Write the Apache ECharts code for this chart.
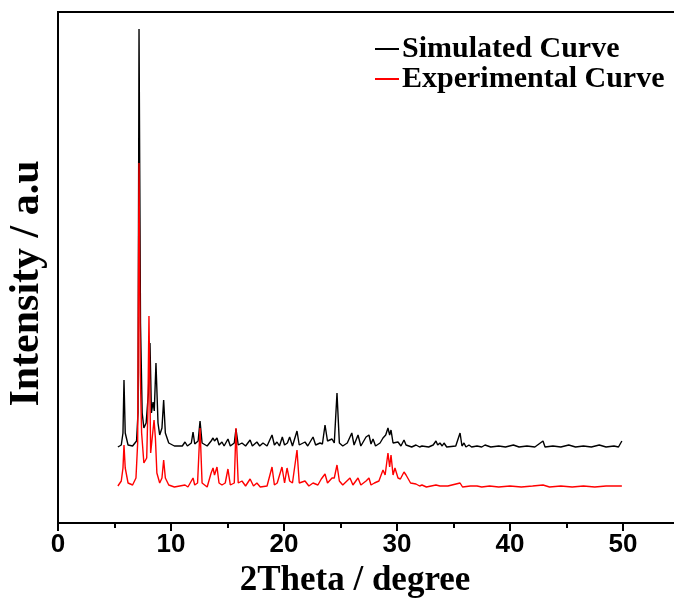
<!DOCTYPE html>
<html>
<head>
<meta charset="utf-8">
<script src="https://cdn.jsdelivr.net/npm/echarts@6/dist/echarts.min.js"></script>
<style>
  html, body { margin: 0; padding: 0; background: #fff; }
  #xrd { width: 674px; height: 603px; }
</style>
</head>
<body>
<div id="xrd"></div>
<script>
// simulated pattern (2theta, intensity in arbitrary units)
var simTheta = [5.3, 5.6, 5.75, 5.84, 5.95, 6.2, 6.6, 6.95, 7.08, 7.17, 7.3, 7.45, 7.6, 7.8, 8.0, 8.14, 8.27, 8.41, 8.52, 8.67, 8.85, 9.0, 9.2, 9.35, 9.5, 9.8, 10.3, 11.0,
  11.24, 11.45, 11.8, 11.95, 12.1, 12.4, 12.57, 12.75, 13.2, 13.55, 13.72, 13.85, 14.07, 14.25, 14.51, 14.7, 15.04, 15.25, 15.6, 15.75, 15.95,
  16.28, 16.6, 17.0, 17.2, 17.6, 17.85, 18.14, 18.5, 18.94, 19.15, 19.38, 19.6, 19.85, 20.05, 20.3, 20.5, 20.75, 21.15, 21.35, 21.86, 22.1,
  22.57, 22.8, 23.19, 23.4, 23.63, 23.85, 24.25, 24.45, 24.69, 24.9, 25.2, 25.6, 25.84, 26.0, 26.2, 26.55, 26.8, 27.26, 27.52, 27.7, 27.88,
  28.1, 28.5, 28.76, 29.0, 29.2, 29.35, 29.47, 29.65, 29.82, 30.09, 30.35, 30.62, 30.8, 30.97, 31.3, 31.68, 32.0, 32.21, 32.8, 33.2, 33.45,
  33.6, 33.8, 34.0, 34.16, 34.4, 35.2, 35.58, 35.75, 35.93, 36.1, 36.37, 36.6, 37.08, 37.5, 37.79, 38.3, 39.0, 39.6, 40.3, 40.8, 41.5, 42.2,
  42.92, 43.1, 43.8, 44.5, 45.2, 45.8, 46.5, 47.2, 47.9, 48.5, 49.2, 49.6, 49.9];
var simIntensity = [76, 78, 90, 143, 90, 78, 77, 82, 110, 494, 200, 110, 95, 100, 130, 180, 110, 121, 112, 160, 100, 88, 95, 123, 90, 80, 77, 77,
  81, 77, 80, 91, 79, 82, 102, 80, 77, 82, 85, 82, 85, 78, 81, 77, 84, 77, 80, 94, 78,
  80, 77, 83, 77, 81, 77, 80, 77, 88, 78, 81, 77, 86, 78, 80, 86, 77, 92, 78, 81, 77,
  86, 78, 80, 79, 98, 82, 84, 80, 130, 80, 77, 80, 86, 90, 78, 88, 77, 86, 88, 79, 84,
  77, 80, 85, 88, 95, 88, 93, 80, 82, 81, 77, 83, 78, 79, 76, 78, 76, 77, 76, 78, 82,
  78, 80, 77, 80, 76, 77, 90, 77, 80, 76, 78, 76, 77, 76, 78, 76, 77, 76, 78, 76, 77, 76,
  82, 76, 77, 76, 78, 76, 77, 76, 78, 76, 77, 76, 82];

// experimental pattern
var expTheta = [5.3, 5.6, 5.75, 5.84, 5.95, 6.2, 6.6, 6.9, 7.05, 7.17, 7.28, 7.4, 7.6, 7.85, 7.95, 8.05, 8.2, 8.35, 8.5, 8.62, 8.75, 9.0, 9.2, 9.35, 9.5, 9.8, 10.3,
  11.24, 11.5, 11.95, 12.1, 12.35, 12.57, 12.75, 13.2, 13.55, 13.72, 13.85, 14.07, 14.25, 14.51, 14.8, 15.04, 15.25, 15.6, 15.75, 15.95,
  16.28, 16.6, 17.0, 17.3, 17.6, 17.9, 18.5, 18.94, 19.15, 19.4, 19.82, 20.05, 20.27, 20.5, 20.75, 21.15, 21.35, 21.86, 22.2, 22.57, 23.0,
  23.3, 23.63, 23.85, 24.25, 24.45, 24.69, 24.9, 25.2, 25.84, 26.1, 26.55, 26.8, 27.26, 27.52, 27.7, 28.0, 28.4, 28.76, 28.95, 29.2, 29.35,
  29.47, 29.65, 29.82, 30.09, 30.3, 30.62, 30.8, 30.97, 31.2, 31.68, 32.0, 32.21, 32.6, 33.45, 33.8, 34.5, 35.58, 35.8, 36.5, 37.08, 37.5,
  38.2, 39.0, 40.0, 41.0, 42.0, 42.92, 43.5, 44.5, 45.5, 46.5, 47.5, 48.5, 49.9];
var expIntensity = [37, 42, 55, 78, 55, 40, 38, 45, 80, 360, 150, 90, 60, 65, 110, 207, 70, 70, 103, 85, 50, 40, 45, 63, 45, 38, 36,
  38, 36, 45, 38, 40, 95, 40, 36, 50, 55, 48, 56, 40, 38, 40, 54, 38, 40, 95, 40,
  42, 37, 44, 37, 40, 36, 37, 56, 38, 40, 56, 40, 55, 42, 40, 73, 40, 42, 37, 40, 38,
  44, 49, 40, 45, 45, 58, 42, 38, 45, 38, 45, 38, 42, 45, 38, 40, 42, 53, 48, 70, 56,
  68, 48, 55, 45, 44, 51, 48, 50, 40, 39, 37, 38, 36, 38, 37, 37, 40, 36, 37, 37, 36,
  37, 36, 37, 36, 37, 38, 36, 37, 36, 37, 36, 37, 37];

var xTicks = [0, 10, 20, 30, 40, 50, 60];

var zip = function(xs, ys) {
    var out = []
    for (var i = 0; i < xs.length; i++) {
        out.push([xs[i], ys[i]])
    }
    return out
}

var chart = echarts.init(document.getElementById('xrd'));

var option = {
    animation: false,
    backgroundColor: '#fff',
    grid: {
        left: 58,
        top: 12,
        width: 678,
        bottom: 80,
        outerBoundsMode: 'none',
        containLabel: false,
        show: true,
        borderColor: '#000',
        borderWidth: 2,
    },
    legend: {
        orient: 'vertical',
        left: 370,
        top: 29,
        itemGap: 0,
        itemWidth: 24,
        itemHeight: 2,
        icon: 'rect',
        data: ['Simulated Curve', 'Experimental Curve'],
        textStyle: {
            fontFamily: 'Liberation Serif',
            fontWeight: 'bold',
            fontSize: 30,
            color: '#000',
            padding: [0, 0, 0, -2],
        },
    },
    xAxis: {
        type: 'value',
        min: 0,
        max: 60,
        interval: 10,
        name: '2Theta / degree',
        nameLocation: 'middle',
        nameGap: 40,
        nameTextStyle: {
            fontFamily: 'Liberation Serif',
            fontWeight: 'bold',
            fontSize: 35,
            color: '#000',
            padding: [0, 84, 0, 0],
        },
        axisLine: { lineStyle: { color: '#000', width: 2 } },
        axisTick: { show: true, inside: false, length: 8, lineStyle: { color: '#000', width: 2 } },
        minorTick: { show: true, splitNumber: 2, length: 5, lineStyle: { color: '#000', width: 2 } },
        splitLine: { show: false },
        axisLabel: {
            margin: 9,
            fontFamily: 'Liberation Sans',
            fontWeight: 'bold',
            fontSize: 26,
            color: '#000',
            formatter: function(v) { return xTicks.indexOf(v) >= 0 ? String(v) : '' },
        },
    },
    yAxis: {
        type: 'value',
        min: 0,
        max: 511,
        name: 'Intensity / a.u',
        nameLocation: 'middle',
        nameGap: 10,
        nameTextStyle: {
            fontFamily: 'Liberation Serif',
            fontWeight: 'bold',
            fontSize: 42,
            color: '#000',
            padding: [0, 32, 0, 0],
        },
        axisLine: { show: true, lineStyle: { color: '#000', width: 2 } },
        axisTick: { show: false },
        axisLabel: { show: false },
        splitLine: { show: false },
    },
    series: [
        {
            name: 'Simulated Curve',
            type: 'line',
            data: zip(simTheta, simIntensity),
            symbol: 'none',
            color: '#000',
            lineStyle: { color: '#000', width: 1.4 },
        },
        {
            name: 'Experimental Curve',
            type: 'line',
            data: zip(expTheta, expIntensity),
            symbol: 'none',
            color: '#ff0000',
            lineStyle: { color: '#ff0000', width: 1.4 },
        },
    ],
};

chart.setOption(option);
</script>
</body>
</html>
